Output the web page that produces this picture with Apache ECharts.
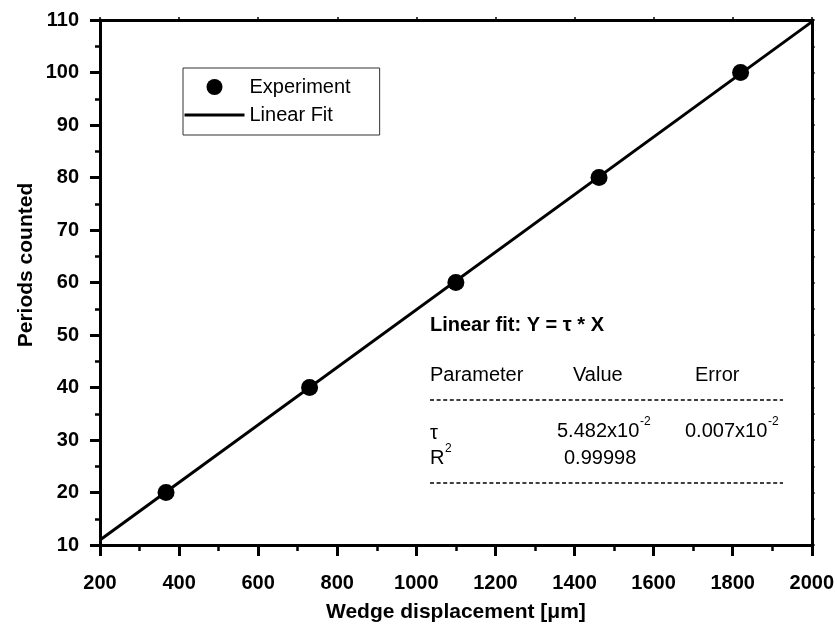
<!DOCTYPE html>
<html>
<head>
<meta charset="utf-8">
<script src="https://cdn.jsdelivr.net/npm/echarts@6/dist/echarts.min.js"></script>
<style>
  html, body { margin: 0; padding: 0; background: #fff; }
  #chart { width: 837px; height: 628px; }
</style>
</head>
<body>
<div id="chart"></div>
<script>
// data
var expX = [367, 730, 1100, 1462, 1820];
var expY = [20, 40, 60, 80, 100];
var fitX = [200, 2000];
var fitY = [10.96, 109.64];
var xTicks = [200, 2000, 200];   // min, max, step
var yTicks = [10, 110, 10];

(function () {
    var font = '"Liberation Sans", Arial, Helvetica, sans-serif';

    function pairs(xs, ys) {
        var out = [];
        for (var i = 0; i < xs.length; i++) out.push([xs[i], ys[i]]);
        return out;
    }

    // 坐标轴公共样式
    var axisLine = { show: true, onZero: false, lineStyle: { color: '#000', width: 3 } };
    var plain = function (v) { return String(v); };

    function txt(x, y, s, size, bold) {
        return {
            type: 'text', x: x, y: y, silent: true,
            style: {
                text: s, fill: '#000', fontFamily: font,
                fontSize: size, fontWeight: bold ? 'bold' : 'normal',
                verticalAlign: 'middle', align: 'left'
            }
        };
    }
    function dash(y) {
        return {
            type: 'line', silent: true,
            shape: { x1: 430, y1: y, x2: 783, y2: y },
            style: { stroke: '#000', lineWidth: 1.3, lineDash: [4, 2.6] }
        };
    }

    var option = {
        animation: false,
        backgroundColor: '#fff',
        grid: { left: 100, right: 25, top: 20, bottom: 80 },
        legend: {
            left: 183, top: 68, orient: 'vertical',
            padding: [9, 29, 10, 0],
            borderColor: '#333', borderWidth: 1,
            itemWidth: 60, itemHeight: 16, itemGap: 8,
            textStyle: { fontSize: 20, fontFamily: font, color: '#000' },
            data: [
                { name: 'Experiment', icon: 'circle' },
                { name: 'Linear Fit', itemStyle: { opacity: 0 }, lineStyle: { width: 3, color: '#000' } }
            ]
        },
        xAxis: [{
            type: 'value', min: xTicks[0], max: xTicks[1], interval: xTicks[2],
            name: 'Wedge displacement [μm]', nameLocation: 'middle', nameGap: 57,
            nameTextStyle: { fontSize: 21, fontWeight: 'bold', fontFamily: font, color: '#000' },
            axisLine: axisLine,
            axisTick: { show: true, inside: false, length: 11, lineStyle: { width: 3, color: '#000' } },
            minorTick: { show: true, splitNumber: 2, length: 6, lineStyle: { width: 2.5, color: '#000' } },
            axisLabel: { fontSize: 20, fontWeight: 'bold', fontFamily: font, color: '#000', margin: 28, formatter: plain },
            splitLine: { show: false }
        }, {
            type: 'value', position: 'top', min: xTicks[0], max: xTicks[1], interval: xTicks[2],
            axisLine: axisLine,
            axisTick: { show: true, length: 3, lineStyle: { width: 1.5, color: '#000' } },
            axisLabel: { show: false },
            splitLine: { show: false }
        }],
        yAxis: [{
            type: 'value', min: yTicks[0], max: yTicks[1], interval: yTicks[2],
            axisLine: axisLine,
            axisTick: { show: true, inside: false, length: 10, lineStyle: { width: 3, color: '#000' } },
            minorTick: { show: true, splitNumber: 2, length: 5, lineStyle: { width: 2.5, color: '#000' } },
            axisLabel: { fontSize: 20, fontWeight: 'bold', fontFamily: font, color: '#000', margin: 21, formatter: plain },
            splitLine: { show: false }
        }, {
            type: 'value', position: 'right', min: yTicks[0], max: yTicks[1], interval: yTicks[2],
            axisLine: axisLine,
            axisTick: { show: true, length: 3, lineStyle: { width: 1.5, color: '#000' } },
            minorTick: { show: true, splitNumber: 2, length: 3, lineStyle: { width: 1.5, color: '#000' } },
            axisLabel: { show: false },
            splitLine: { show: false }
        }],
        series: [{
            name: 'Linear Fit', type: 'line', symbol: 'none',
            lineStyle: { color: '#000', width: 3 },
            itemStyle: { color: '#000' },
            data: pairs(fitX, fitY),
            z: 2
        }, {
            name: 'Experiment', type: 'scatter', symbol: 'circle', symbolSize: 17,
            itemStyle: { color: '#000', opacity: 1 },
            data: pairs(expX, expY),
            z: 3
        }],
        graphic: [
            // Y 轴标题
            {
                type: 'text', x: 26, y: 265, rotation: Math.PI / 2, silent: true,
                style: {
                    text: 'Periods counted', fill: '#000', fontFamily: font,
                    fontSize: 21, fontWeight: 'bold', align: 'center', verticalAlign: 'middle'
                }
            },
            // 拟合结果
            txt(430, 325, 'Linear fit: Y = τ * X', 20, true),
            txt(430, 375, 'Parameter', 20),
            txt(573, 375, 'Value', 20),
            txt(695, 375, 'Error', 20),
            dash(400),
            txt(430, 433, 'τ', 20),
            txt(557, 431, '5.482x10', 20),
            txt(640, 422, '-2', 12),
            txt(685, 431, '0.007x10', 20),
            txt(768, 422, '-2', 12),
            txt(430, 458, 'R', 20),
            txt(445, 449, '2', 12),
            txt(564, 458, '0.99998', 20),
            dash(483)
        ]
    };

    var myChart = echarts.init(document.getElementById('chart'));
    myChart.setOption(option);
})();
</script>
</body>
</html>
